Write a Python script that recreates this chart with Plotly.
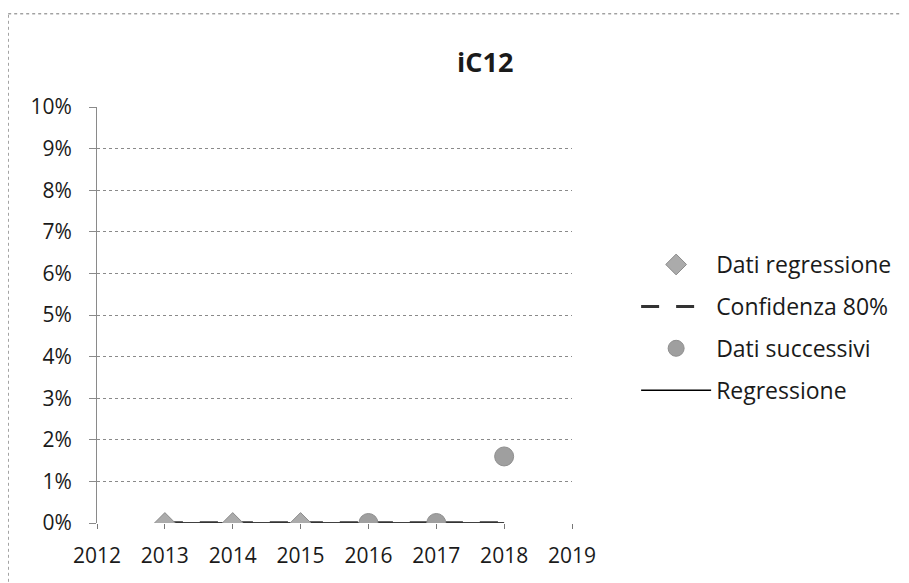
import plotly.graph_objects as go

# values
years_regression = [2013, 2014, 2015]
values_regression = [0.0, 0.0, 0.0]

years_following = [2016, 2017, 2018]
values_following = [0.0, 0.0, 0.016]

years_fit = [2013, 2014, 2015, 2016, 2017, 2018]
values_fit = [0.0, 0.0, 0.0, 0.0, 0.0, 0.0]
conf_upper = [0.0, 0.0, 0.0, 0.0, 0.0, 0.0]
conf_lower = [0.0, 0.0, 0.0, 0.0, 0.0, 0.0]

x_ticks = [2012, 2013, 2014, 2015, 2016, 2017, 2018, 2019]

font_family = "Open Sans, Noto Sans, sans-serif"

fig = go.Figure()

fig.add_trace(go.Scatter(
    x=years_fit, y=values_fit, mode="lines", name="Regressione",
    line=dict(color="black", width=1.5),
    legendgroup="d", legendrank=4,
))
fig.add_trace(go.Scatter(
    x=years_fit, y=conf_upper, mode="lines", name="Confidenza 80%",
    line=dict(color="#333333", width=3, dash="18px,17px"),
    legendgroup="b", legendrank=2,
))
fig.add_trace(go.Scatter(
    x=years_fit, y=conf_lower, mode="lines", name="Confidenza 80%",
    line=dict(color="#333333", width=3, dash="18px,17px"),
    legendgroup="b", showlegend=False,
))
fig.add_trace(go.Scatter(
    x=years_regression, y=values_regression, mode="markers", name="Dati regressione",
    marker=dict(symbol="diamond", size=16, color="#ababab",
                line=dict(color="#8c8c8c", width=1)),
    legendgroup="a", legendrank=1,
))
fig.add_trace(go.Scatter(
    x=years_following, y=values_following, mode="markers", name="Dati successivi",
    marker=dict(symbol="circle", size=19, color="#9f9f9f",
                line=dict(color="#8f8f8f", width=1)),
    legendgroup="c", legendrank=3,
))

# the page body adds 8px, so margins are 8px smaller than the measured positions
fig.update_layout(
    width=909, height=583,
    margin=dict(l=89, r=345, t=99, b=68, autoexpand=False),
    paper_bgcolor="white", plot_bgcolor="white",
    font=dict(family=font_family, size=21, color="#1a1a1a"),
    title=dict(text="<b>iC12</b>", x=0.525, xanchor="center", y=0.907, yanchor="middle",
               font=dict(size=27, color="#1a1a1a")),
    legend=dict(x=1.135, xanchor="left", y=0.673, yanchor="top",
                tracegroupgap=9, itemwidth=70,
                font=dict(size=23), bgcolor="rgba(0,0,0,0)"),
    showlegend=True,
)

fig.update_xaxes(
    range=[2012, 2019], tickvals=x_ticks, ticktext=[str(t) for t in x_ticks],
    showgrid=False, zeroline=False, showline=False,
    ticks="outside", ticklen=5, tickcolor="#777", ticklabelstandoff=9,
)
fig.update_yaxes(
    range=[0, 0.10], dtick=0.01, tickformat=".0%",
    showgrid=True, gridcolor="#8a8a8a", griddash="dot", gridwidth=1,
    zeroline=False, showline=True, linecolor="#8a8a8a",
    ticks="outside", ticklen=7, tickcolor="#8a8a8a", ticklabelstandoff=13,
)

# top and left edges of the chart border seen in the scan
fig.add_shape(type="line", xref="paper", yref="paper",
              x0=-0.187, x1=1.9, y0=1.224, y1=1.224,
              line=dict(color="#777", width=1, dash="dot"))
fig.add_shape(type="line", xref="paper", yref="paper",
              x0=-0.187, x1=-0.187, y0=-0.3, y1=1.224,
              line=dict(color="#777", width=1, dash="dot"))

fig.write_html("out.html")
